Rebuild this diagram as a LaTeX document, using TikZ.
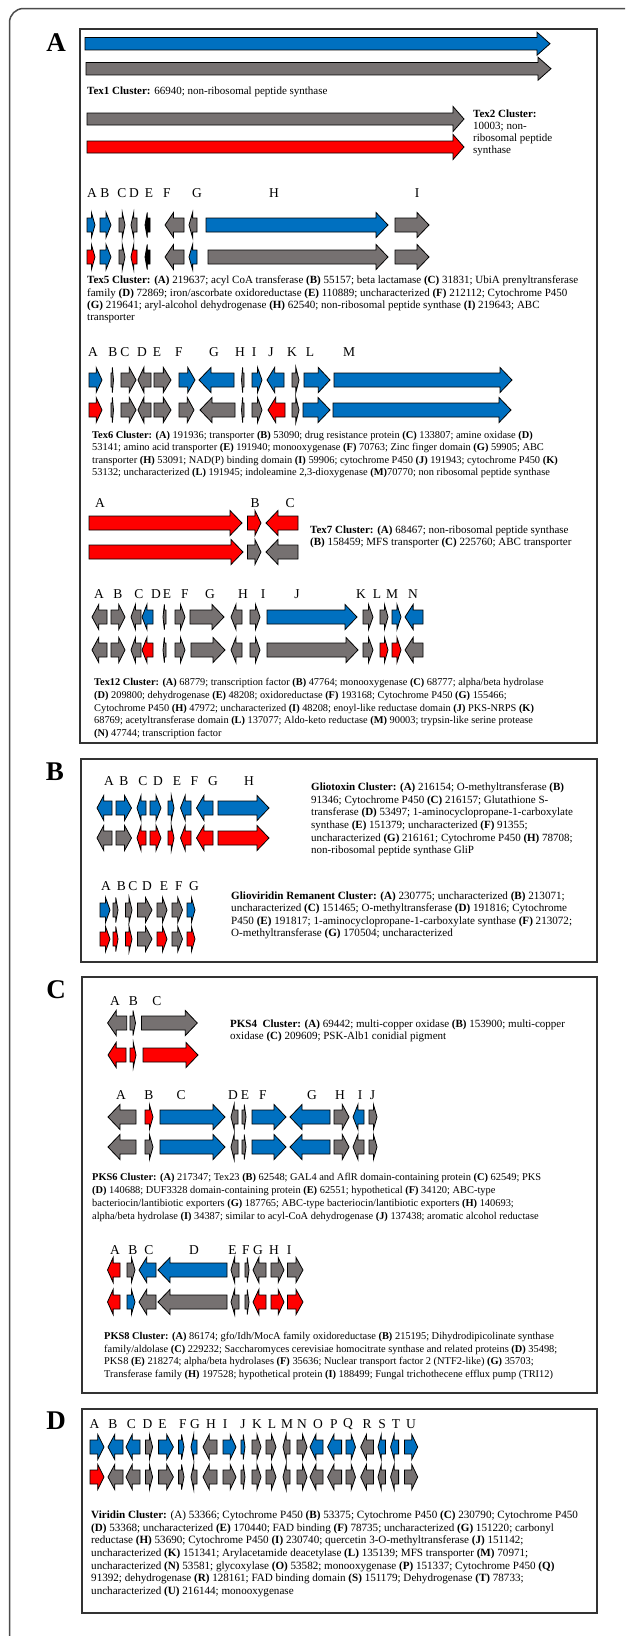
\documentclass[tikz,border=0pt]{standalone}
\usepackage{fontspec}
\setmainfont{Liberation Serif}
\definecolor{gblue}{HTML}{0070C0}
\definecolor{gred}{HTML}{FF0000}
\definecolor{ggray}{HTML}{767171}
\def\gh{7}\def\gH{12.5}\def\gLmax{12}
\newcommand\gene[5]{%
  \pgfmathsetmacro\gL{min(\gLmax,0.45*abs(#2-#1))}%
  \if R#4%
    \draw[genestyle,fill=#5] (#1,#3-\gh) -- (#2-\gL,#3-\gh) -- (#2-\gL,#3-\gH) -- (#2,#3) -- (#2-\gL,#3+\gH) -- (#2-\gL,#3+\gh) -- (#1,#3+\gh) -- cycle;
  \else
    \draw[genestyle,fill=#5] (#2,#3-\gh) -- (#1+\gL,#3-\gh) -- (#1+\gL,#3-\gH) -- (#1,#3) -- (#1+\gL,#3+\gH) -- (#1+\gL,#3+\gh) -- (#2,#3+\gh) -- cycle;
  \fi}
\newcommand\glabs[3]{\foreach \gl/\gx in {#3} {\node[glab] (#1-\gl) at (\gx,#2) {\gl};}}
\tikzset{
  genestyle/.style={draw=black,line width=0.8pt,line join=miter},
  glab/.style={inner sep=0pt,font=\fontsize{13.5}{15}\selectfont},
  txt/.style 2 args={anchor=base west,inner sep=0pt,align=left,font=\fontsize{#1}{#2}\selectfont},
  panel/.style={draw=black!80,line width=1.1pt},
  plab/.style={inner sep=0pt,font=\fontsize{27}{30}\selectfont\bfseries}
}
\begin{document}
\begin{tikzpicture}[x=1pt,y=-1pt]
\useasboundingbox (0,0) rectangle (625,1636);
\fill[white] (0,0) rectangle (625,1636);
\begin{scope}
\clip (0,0) rectangle (625,1636);
\draw[draw=black!70,line width=1.5pt,rounded corners=14pt] (9.5,8.5) rectangle (700,1720);
\end{scope}
% panels
\draw[panel] (80,29) rectangle (597,743);
\draw[panel] (81,759) rectangle (597,962);
\draw[panel] (82,977) rectangle (597,1393);
\draw[panel] (82,1409) rectangle (597,1613);
\node[plab] (pA) at (56,43) {A};
\node[plab] (pB) at (55,772) {B};
\node[plab] (pC) at (56,990) {C};
\node[plab] (pD) at (56,1421) {D};

% ---------- Tex1
\def\gh{6.2}\def\gH{11.5}\def\gLmax{13}
\gene{85}{550}{43.7}{R}{gblue}
\gene{86}{551}{68.7}{R}{ggray}
\node[txt={11}{12.6}] (tex1) at (87,94.3) {\textbf{Tex1 Cluster:} 66940; non-ribosomal peptide synthase};
% ---------- Tex2
\def\gh{6}\def\gH{12.5}\def\gLmax{11}
\gene{87}{464}{119}{R}{ggray}
\gene{87}{464}{147}{R}{gred}
\node[txt={11}{12}] (tex2) at (473,153.6) {\textbf{Tex2 Cluster:}\\10003; non-\\ribosomal peptide\\synthase};
\def\gh{7}\def\gH{12.5}\def\gLmax{12}

% ---------- Tex5
\glabs{t5}{193}{A/92,B/105,C/122,D/134,E/149,F/167,G/197,H/274,I/417}
\gene{87}{95}{225}{R}{gblue}
\gene{100}{111}{225}{R}{gblue}
\gene{119}{125}{225}{R}{ggray}
\gene{131}{137}{225}{L}{ggray}
\gene{145}{150}{225}{L}{black}
\gene{165}{184}{225}{L}{ggray}
\gene{189}{197}{225}{L}{ggray}
\gene{206}{388}{225}{R}{gblue}
\gene{395}{429}{225}{R}{ggray}
\gene{87}{95}{257}{R}{gred}
\gene{100}{111}{257}{R}{gblue}
\gene{119}{125}{257}{R}{ggray}
\gene{131}{137}{257}{L}{gred}
\gene{145}{150}{257}{L}{black}
\gene{165}{184}{257}{L}{ggray}
\gene{189}{197}{257}{L}{gblue}
\gene{208}{388}{257}{R}{ggray}
\gene{395}{429}{257}{R}{ggray}
\node[txt={11}{12.3}] (tex5) at (87,320.6) {\textbf{Tex5 Cluster: (A)} 219637; acyl CoA transferase \textbf{(B)} 55157; beta lactamase \textbf{(C)} 31831; UbiA prenyltransferase\\
family \textbf{(D)} 72869; iron/ascorbate oxidoreductase \textbf{(E)} 110889; uncharacterized \textbf{(F)} 212112; Cytochrome P450\\
\textbf{(G)} 219641; aryl-alcohol dehydrogenase \textbf{(H)} 62540; non-ribosomal peptide synthase \textbf{(I)} 219643; ABC\\
transporter};

% ---------- Tex6
\glabs{t6}{352}{A/93,B/113,C/125,D/142,E/157,F/179,G/214,H/240,I/254,J/271,K/292,L/310,M/349}
\gene{89}{102}{380}{R}{gblue}
\gene{111}{113.5}{380}{R}{ggray}
\gene{121}{136}{380}{R}{ggray}
\gene{138}{151}{380}{L}{ggray}
\gene{154}{171}{380}{R}{ggray}
\gene{179}{195}{380}{R}{gblue}
\gene{199}{234}{380}{L}{gblue}
\gene{241.5}{244}{380}{L}{ggray}
\gene{252}{262}{380}{R}{gblue}
\gene{267}{284}{380}{L}{gblue}
\gene{292}{299}{380}{R}{ggray}
\gene{304}{330}{380}{R}{gblue}
\gene{334}{512}{380}{R}{gblue}
\gene{89}{102}{410}{R}{gred}
\gene{111}{113.5}{410}{R}{ggray}
\gene{121}{136}{410}{R}{ggray}
\gene{138}{151}{410}{L}{ggray}
\gene{154}{171}{410}{R}{ggray}
\gene{179}{194}{410}{R}{ggray}
\gene{200}{235}{410}{L}{ggray}
\gene{241.5}{244}{410}{L}{ggray}
\gene{252}{262}{410}{R}{ggray}
\gene{268}{285}{410}{L}{gred}
\gene{292}{299}{410}{R}{ggray}
\gene{303}{330}{410}{R}{gblue}
\gene{333}{511}{410}{R}{gblue}
\node[txt={10.4}{12.5}] (tex6) at (92,475.6) {\textbf{Tex6 Cluster: (A)} 191936; transporter \textbf{(B)} 53090; drug resistance protein \textbf{(C)} 133807; amine oxidase \textbf{(D)}\\
53141; amino acid transporter \textbf{(E)} 191940; monooxygenase \textbf{(F)} 70763; Zinc finger domain \textbf{(G)} 59905; ABC\\
transporter \textbf{(H)} 53091; NAD(P) binding domain \textbf{(I)} 59906; cytochrome P450 \textbf{(J)} 191943; cytochrome P450 \textbf{(K)}\\
53132; uncharacterized \textbf{(L)} 191945; indoleamine 2,3-dioxygenase \textbf{(M)}70770; non ribosomal peptide synthase};

% ---------- Tex7
\glabs{t7}{503}{A/100,B/255,C/290}
\gene{89}{242}{523}{R}{gred}
\gene{247.5}{261}{523}{R}{gred}
\gene{266}{298}{523}{L}{gred}
\gene{89}{243}{552}{R}{gred}
\gene{247.5}{261}{552}{R}{ggray}
\gene{266}{298}{552}{L}{ggray}
\node[txt={11}{12}] (tex7) at (310,545.6) {\textbf{Tex7 Cluster: (A)} 68467; non-ribosomal peptide synthase\\
\textbf{(B)} 158459; MFS transporter \textbf{(C)} 225760; ABC transporter};

% ---------- Tex12
\glabs{t12}{594}{A/99,B/118,C/139,D/156,E/167,F/185,G/210,H/243,I/263,J/297,K/361,L/377,M/392,N/413}
\gene{92}{107}{617}{L}{ggray}
\gene{111}{125}{617}{R}{ggray}
\gene{131}{141}{617}{L}{ggray}
\gene{142}{153}{617}{L}{gblue}
\gene{163}{166}{617}{L}{ggray}
\gene{175}{185}{617}{R}{ggray}
\gene{190}{224}{617}{R}{ggray}
\gene{231}{242}{617}{L}{ggray}
\gene{250}{260}{617}{R}{ggray}
\gene{267}{357}{617}{R}{gblue}
\gene{363}{373}{617}{R}{ggray}
\gene{380}{388}{617}{R}{ggray}
\gene{392}{401}{617}{R}{gblue}
\gene{405}{423}{617}{L}{gblue}
\gene{92}{107}{650}{L}{ggray}
\gene{111}{125}{650}{R}{ggray}
\gene{131}{141}{650}{L}{ggray}
\gene{142}{153}{650}{L}{gred}
\gene{163}{166}{650}{L}{ggray}
\gene{175}{185}{650}{R}{ggray}
\gene{191}{225}{650}{R}{ggray}
\gene{231}{242}{650}{L}{ggray}
\gene{250}{260}{650}{R}{ggray}
\gene{267}{358}{650}{R}{ggray}
\gene{363}{373}{650}{R}{ggray}
\gene{380}{388}{650}{R}{gred}
\gene{392}{401}{650}{R}{gred}
\gene{405}{423}{650}{L}{ggray}
\node[txt={10.35}{12.7}] (tex12) at (94,736.6) {\textbf{Tex12 Cluster: (A)} 68779; transcription factor \textbf{(B)} 47764; monooxygenase \textbf{(C)} 68777; alpha/beta hydrolase\\
\textbf{(D)} 209800; dehydrogenase \textbf{(E)} 48208; oxidoreductase \textbf{(F)} 193168; Cytochrome P450 \textbf{(G)} 155466;\\
Cytochrome P450 \textbf{(H)} 47972; uncharacterized \textbf{(I)} 48208; enoyl-like reductase domain \textbf{(J)} PKS-NRPS \textbf{(K)}\\
68769; acetyltransferase domain \textbf{(L)} 137077; Aldo-keto reductase \textbf{(M)} 90003; trypsin-like serine protease\\
\textbf{(N)} 47744; transcription factor};

% ---------- Gliotoxin
\glabs{gt}{781}{A/109,B/124,C/143,D/158,E/177,F/194.5,G/213,H/249}
\gene{97}{112}{808}{L}{gblue}
\gene{116}{131.5}{808}{R}{gblue}
\gene{137}{146}{808}{L}{gblue}
\gene{150}{161}{808}{R}{gblue}
\gene{168}{174}{808}{R}{gblue}
\gene{180.5}{191}{808}{L}{gblue}
\gene{196.5}{213}{808}{L}{gblue}
\gene{218}{269}{808}{R}{gblue}
\gene{97}{112}{838}{L}{ggray}
\gene{116}{131.5}{838}{R}{ggray}
\gene{137}{146}{838}{L}{gred}
\gene{150}{161}{838}{R}{gred}
\gene{168}{174}{838}{R}{gred}
\gene{180.5}{191}{838}{L}{gred}
\gene{196.5}{213}{838}{L}{gred}
\gene{218}{269}{838}{R}{gred}
\node[txt={11}{12.6}] (glio) at (311,853.6) {\textbf{Gliotoxin Cluster: (A)} 216154; O-methyltransferase \textbf{(B)}\\
91346; Cytochrome P450 \textbf{(C)} 216157; Glutathione S-\\
transferase \textbf{(D)} 53497; 1-aminocyclopropane-1-carboxylate\\
synthase \textbf{(E)} 151379; uncharacterized \textbf{(F)} 91355;\\
uncharacterized \textbf{(G)} 216161; Cytochrome P450 \textbf{(H)} 78708;\\
non-ribosomal peptide synthase GliP};

% ---------- Glioviridin
\glabs{gv}{886}{A/106,B/121.5,C/133,D/147,E/164,F/179,G/194}
\gene{100}{110}{910}{R}{gblue}
\gene{113}{118}{910}{R}{ggray}
\gene{125.5}{132}{910}{R}{ggray}
\gene{137.5}{152}{910}{R}{ggray}
\gene{157}{167}{910}{R}{ggray}
\gene{172}{182.5}{910}{R}{ggray}
\gene{187}{195}{910}{R}{gblue}
\gene{100}{110}{939}{R}{gred}
\gene{113}{118}{939}{R}{gred}
\gene{125.5}{132}{939}{R}{gred}
\gene{137.5}{152}{939}{R}{ggray}
\gene{157}{167}{939}{R}{gred}
\gene{172}{182.5}{939}{R}{ggray}
\gene{187}{195}{939}{R}{gred}
\node[txt={11.1}{12.4}] (gliov) at (231,936.6) {\textbf{Glioviridin Remanent Cluster: (A)} 230775; uncharacterized \textbf{(B)} 213071;\\
uncharacterized \textbf{(C)} 151465; O-methyltransferase \textbf{(D)} 191816; Cytochrome\\
P450 \textbf{(E)} 191817; 1-aminocyclopropane-1-carboxylate synthase \textbf{(F)} 213072;\\
O-methyltransferase \textbf{(G)} 170504; uncharacterized};

% ---------- PKS4
\glabs{p4}{1001}{A/115,B/133.5,C/157}
\gene{107.6}{126.7}{1023}{L}{ggray}
\gene{130}{135.5}{1023}{R}{ggray}
\gene{141.5}{197.3}{1023}{R}{ggray}
\gene{108}{126}{1055}{L}{gred}
\gene{130}{136}{1055}{R}{gred}
\gene{143}{198}{1055}{R}{gred}
\node[txt={11}{12.6}] (pks4) at (230,1039.6) {\textbf{PKS4\ \ Cluster: (A)} 69442; multi-copper oxidase \textbf{(B)} 153900; multi-copper\\
oxidase \textbf{(C)} 209609; PSK-Alb1 conidial pigment};

% ---------- PKS6
\glabs{p6}{1095}{A/121,B/149,C/181,D/233,E/245,F/263,G/312,H/340,I/360,J/372.5}
\gene{108}{136}{1117}{L}{ggray}
\gene{145}{153}{1117}{R}{gred}
\gene{160}{225}{1117}{R}{gblue}
\gene{231}{238}{1117}{L}{ggray}
\gene{242}{246}{1117}{R}{ggray}
\gene{252}{286}{1117}{R}{gblue}
\gene{290}{330}{1117}{L}{gblue}
\gene{334}{349}{1117}{R}{ggray}
\gene{353}{364}{1117}{L}{gblue}
\gene{369}{377}{1117}{R}{ggray}
\gene{108}{136}{1147}{L}{ggray}
\gene{145}{153}{1147}{R}{ggray}
\gene{160}{225}{1147}{R}{gblue}
\gene{231}{238}{1147}{L}{ggray}
\gene{242}{246}{1147}{R}{ggray}
\gene{252}{286}{1147}{R}{gblue}
\gene{290}{330}{1147}{L}{gblue}
\gene{334}{349}{1147}{R}{ggray}
\gene{353}{364}{1147}{L}{ggray}
\gene{369}{377}{1147}{R}{ggray}
\node[txt={10.4}{13}] (pks6) at (92,1219.6) {\textbf{PKS6 Cluster: (A)} 217347; Tex23 \textbf{(B)} 62548; GAL4 and AflR domain-containing protein \textbf{(C)} 62549; PKS\\
\textbf{(D)} 140688; DUF3328 domain-containing protein \textbf{(E)} 62551; hypothetical \textbf{(F)} 34120; ABC-type\\
bacteriocin/lantibiotic exporters \textbf{(G)} 187765; ABC-type bacteriocin/lantibiotic exporters \textbf{(H)} 140693;\\
alpha/beta hydrolase \textbf{(I)} 34387; similar to acyl-CoA dehydrogenase \textbf{(J)} 137438; aromatic alcohol reductase};

% ---------- PKS8
\glabs{p8}{1250}{A/115,B/133,C/149,D/194,E/232.5,F/246,G/258,H/274,I/289}
\gene{107.5}{120}{1270}{L}{gred}
\gene{127}{135}{1270}{R}{ggray}
\gene{139}{156}{1270}{L}{gblue}
\gene{158}{227}{1270}{L}{gblue}
\gene{231}{239}{1270}{L}{ggray}
\gene{245}{249}{1270}{R}{ggray}
\gene{253}{266}{1270}{L}{ggray}
\gene{271}{284}{1270}{R}{ggray}
\gene{287.5}{303}{1270}{R}{ggray}
\gene{107.5}{120}{1302}{L}{gred}
\gene{127}{135}{1302}{R}{gblue}
\gene{139}{156}{1302}{L}{ggray}
\gene{158}{227}{1302}{L}{ggray}
\gene{231}{239}{1302}{L}{ggray}
\gene{245}{249}{1302}{R}{ggray}
\gene{253}{266}{1302}{L}{gred}
\gene{271}{284}{1302}{R}{gred}
\gene{287.5}{303}{1302}{R}{gred}
\node[txt={10.4}{12.7}] (pks8) at (104,1377.6) {\textbf{PKS8 Cluster: (A)} 86174; gfo/Idh/MocA family oxidoreductase \textbf{(B)} 215195; Dihydrodipicolinate synthase\\
family/aldolase \textbf{(C)} 229232; Saccharomyces cerevisiae homocitrate synthase and related proteins \textbf{(D)} 35498;\\
PKS8 \textbf{(E)} 218274; alpha/beta hydrolases \textbf{(F)} 35636; Nuclear transport factor 2 (NTF2-like) \textbf{(G)} 35703;\\
Transferase family \textbf{(H)} 197528; hypothetical protein \textbf{(I)} 188499; Fungal trichothecene efflux pump (TRI12)};

% ---------- Viridin
\glabs{vi}{1424}{A/94.5,B/113,C/131.5,D/147.5,E/162.6,F/183,G/195,H/211,I/225,J/243,K/257,L/272,M/287,N/302,O/318,P/334,Q/348,R/367,S/382,T/396,U/411}
\foreach \yy/\cA/\cB/\cC/\cE/\cF/\cG/\cI/\cJ/\cO/\cP/\cQ/\cS/\cT/\cU in
  {1447/gblue/gblue/gblue/gblue/gblue/gblue/gblue/gblue/gblue/gblue/gblue/gblue/gblue/gblue,
   1477/gred/ggray/ggray/ggray/ggray/ggray/ggray/ggray/ggray/ggray/ggray/ggray/ggray/ggray}{
\gene{90}{104}{\yy}{R}{\cA}
\gene{108}{123}{\yy}{L}{\cB}
\gene{126}{140}{\yy}{L}{\cC}
\gene{145.5}{152.6}{\yy}{R}{ggray}
\gene{158.6}{173.4}{\yy}{R}{\cE}
\gene{178.6}{184}{\yy}{R}{\cF}
\gene{191}{197}{\yy}{L}{\cG}
\gene{203}{217}{\yy}{L}{ggray}
\gene{223}{236}{\yy}{R}{\cI}
\gene{241}{245}{\yy}{R}{\cJ}
\gene{252}{261}{\yy}{R}{ggray}
\gene{266}{276}{\yy}{R}{ggray}
\gene{283}{290}{\yy}{L}{ggray}
\gene{297}{307}{\yy}{R}{ggray}
\gene{310}{323}{\yy}{L}{\cO}
\gene{327.6}{341.6}{\yy}{L}{\cP}
\gene{346}{355.5}{\yy}{R}{\cQ}
\gene{360.7}{373.5}{\yy}{L}{ggray}
\gene{378}{385.4}{\yy}{L}{\cS}
\gene{390.6}{398.6}{\yy}{L}{\cT}
\gene{404.5}{417.7}{\yy}{R}{\cU}
}
\node[txt={11.1}{12.67}] (viri) at (91,1594.6) {\textbf{Viridin Cluster:} (A) 53366; Cytochrome P450 \textbf{(B)} 53375; Cytochrome P450 \textbf{(C)} 230790; Cytochrome P450\\
\textbf{(D)} 53368; uncharacterized \textbf{(E)} 170440; FAD binding \textbf{(F)} 78735; uncharacterized \textbf{(G)} 151220; carbonyl\\
reductase \textbf{(H)} 53690; Cytochrome P450 \textbf{(I)} 230740; quercetin 3-O-methyltransferase \textbf{(J)} 151142;\\
uncharacterized \textbf{(K)} 151341; Arylacetamide deacetylase \textbf{(L)} 135139; MFS transporter \textbf{(M)} 70971;\\
uncharacterized \textbf{(N)} 53581; glycoxylase \textbf{(O)} 53582; monooxygenase \textbf{(P)} 151337; Cytochrome P450 \textbf{(Q)}\\
91392; dehydrogenase \textbf{(R)} 128161; FAD binding domain \textbf{(S)} 151179; Dehydrogenase \textbf{(T)} 78733;\\
uncharacterized \textbf{(U)} 216144; monooxygenase};
\end{tikzpicture}
\end{document}
